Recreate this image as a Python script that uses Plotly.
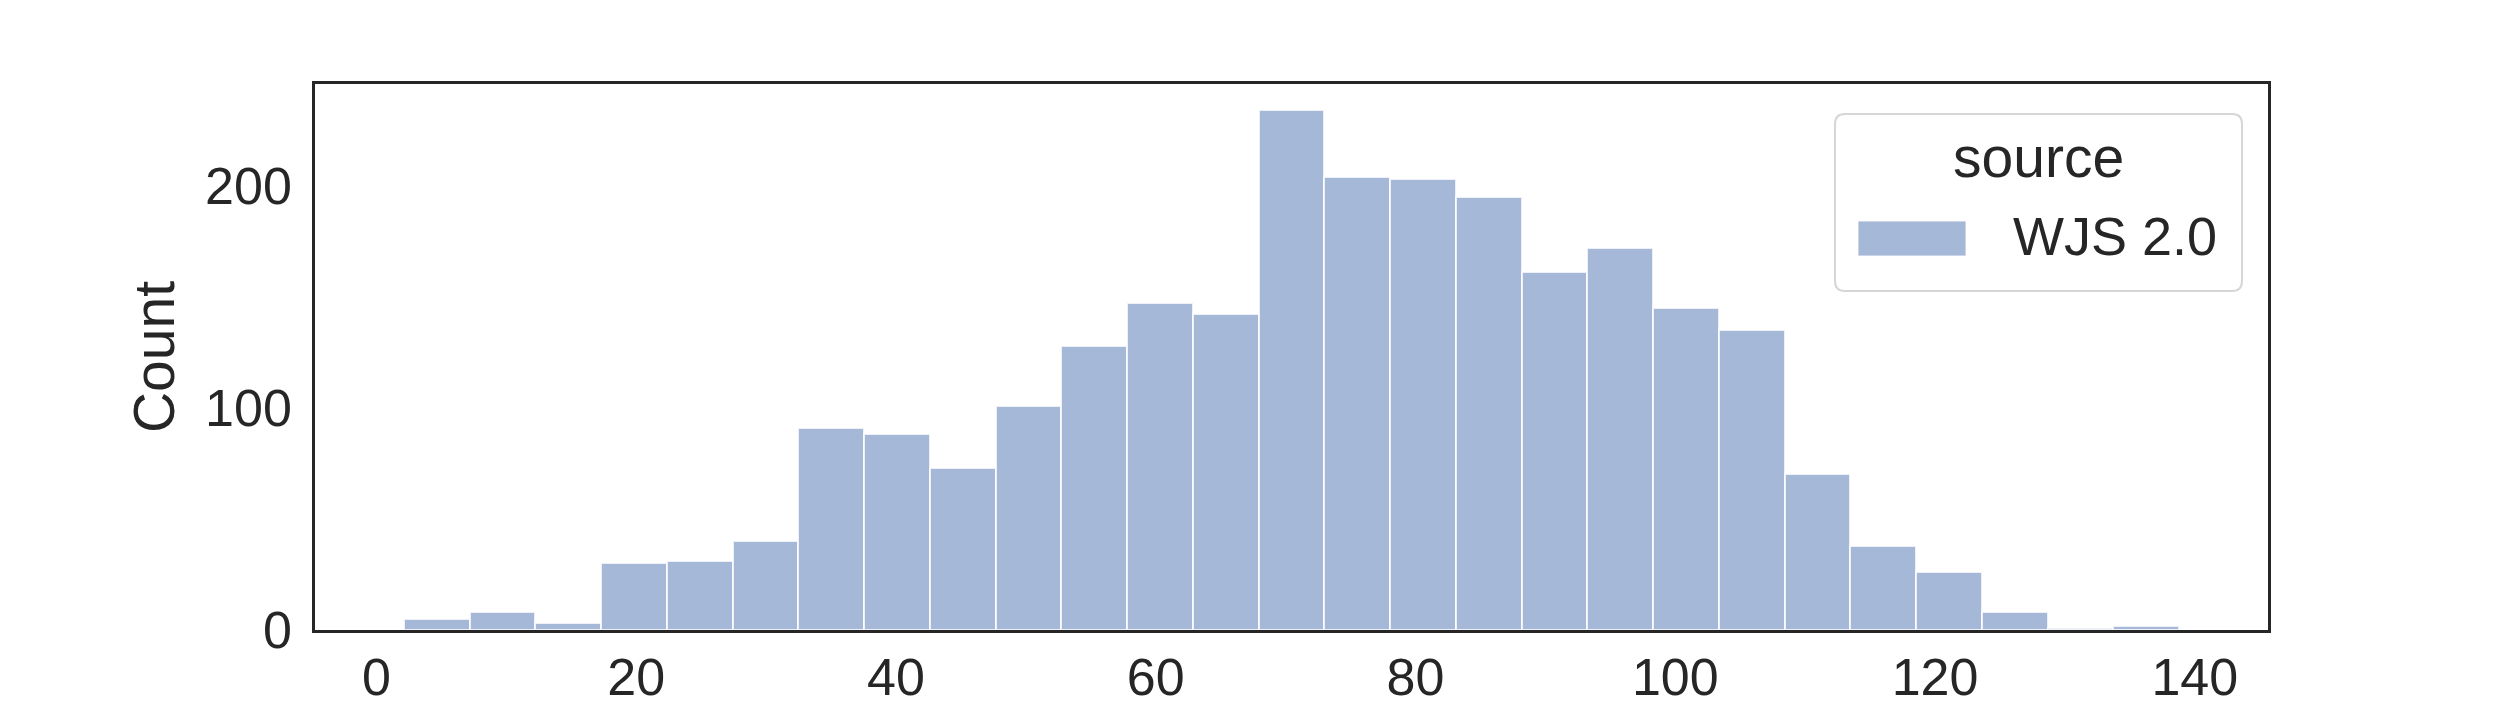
import numpy as np
import plotly.graph_objects as go

# histogram of WJS 2.0 values (counts)
bin_start = 2.1
bin_end = 138.8
counts = [5, 8, 3, 30, 31, 40, 91, 88, 73, 101, 128, 147, 142, 234,
          204, 203, 195, 161, 172, 145, 135, 70, 38, 26, 8, 1, 2]
series_name = "WJS 2.0"
legend_title = "source"
x_label = "dlt"
y_label = "Count"
x_ticks = [0, 20, 40, 60, 80, 100, 120, 140]
y_ticks = [0, 100, 200]

edges = np.linspace(bin_start, bin_end, len(counts) + 1)
centers = (edges[:-1] + edges[1:]) / 2
widths = np.diff(edges)

# the page body has an 8px margin, so the figure is drawn 8px smaller
OFF = 8
W, H = 2520 - 2 * OFF, 720 - 2 * OFF
L, R, T, B = 315 - OFF, 2268 - OFF, 84 - OFF, 630 - OFF
FONT = "Liberation Sans, Arial, sans-serif"
INK = "#262626"
BAR = "#a5b8d7"


def px(x):
    # reference pixel -> paper x
    return (x - OFF - L) / (R - L)


def py(y):
    # reference pixel -> paper y
    return (B - (y - OFF)) / (B - T)


fig = go.Figure()
fig.add_trace(go.Bar(
    x=centers, y=counts, width=widths, name=series_name,
    marker=dict(color=BAR, line=dict(color="rgba(255,255,255,0.8)", width=2)),
    showlegend=False,
))

pad = 0.05 * (bin_end - bin_start)
fig.update_xaxes(
    range=[bin_start - pad, bin_end + pad], tickvals=x_ticks,
    showline=True, linecolor=INK, linewidth=2.5, mirror=True,
    showgrid=False, zeroline=False, ticks="",
    tickfont=dict(size=52, color=INK),
)
fig.update_yaxes(
    range=[0, max(counts) * 1.05], tickvals=y_ticks,
    showline=True, linecolor=INK, linewidth=2.5, mirror=True,
    showgrid=False, zeroline=False, ticks="outside", ticklen=10,
    tickcolor="rgba(0,0,0,0)", tickfont=dict(size=52, color=INK),
    title=dict(text=y_label, font=dict(size=57, color=INK), standoff=13),
)

# x label sits mostly below the bottom edge, as in the reference
fig.add_annotation(text=x_label, xref="paper", yref="paper",
                   x=0.5, y=py(701), showarrow=False,
                   xanchor="center", yanchor="top",
                   font=dict(size=57, color=INK, family=FONT))

# legend box drawn by hand (rounded frame, wide swatch like matplotlib)
x0, x1, y0, y1, r = px(1835), px(2242), py(114), py(291), 10
rx, ry = r / (R - L), r / (B - T)
path = (f"M {x0+rx},{y0} L {x1-rx},{y0} Q {x1},{y0} {x1},{y0-ry} "
        f"L {x1},{y1+ry} Q {x1},{y1} {x1-rx},{y1} L {x0+rx},{y1} "
        f"Q {x0},{y1} {x0},{y1+ry} L {x0},{y0-ry} Q {x0},{y0} {x0+rx},{y0} Z")
fig.add_shape(type="path", path=path, xref="paper", yref="paper",
              line=dict(color="#d6d6d6", width=2), fillcolor="rgba(255,255,255,0.8)")
fig.add_shape(type="rect", xref="paper", yref="paper",
              x0=px(1858), x1=px(1966), y0=py(256), y1=py(221),
              fillcolor=BAR, line=dict(color="rgba(255,255,255,0.8)", width=1))
fig.add_annotation(text=legend_title, xref="paper", yref="paper",
                   x=px(2038), y=py(157), showarrow=False,
                   xanchor="center", yanchor="middle",
                   font=dict(size=57, color=INK, family=FONT))
fig.add_annotation(text=series_name, xref="paper", yref="paper",
                   x=px(2011), y=py(236), showarrow=False,
                   xanchor="left", yanchor="middle",
                   font=dict(size=54, color=INK, family=FONT))

fig.update_layout(
    width=W, height=H,
    margin=dict(l=L, r=W - R, t=T, b=H - B, autoexpand=False),
    paper_bgcolor="white", plot_bgcolor="white",
    font=dict(family=FONT, color=INK),
    bargap=0,
)

fig.write_html("out.html")
